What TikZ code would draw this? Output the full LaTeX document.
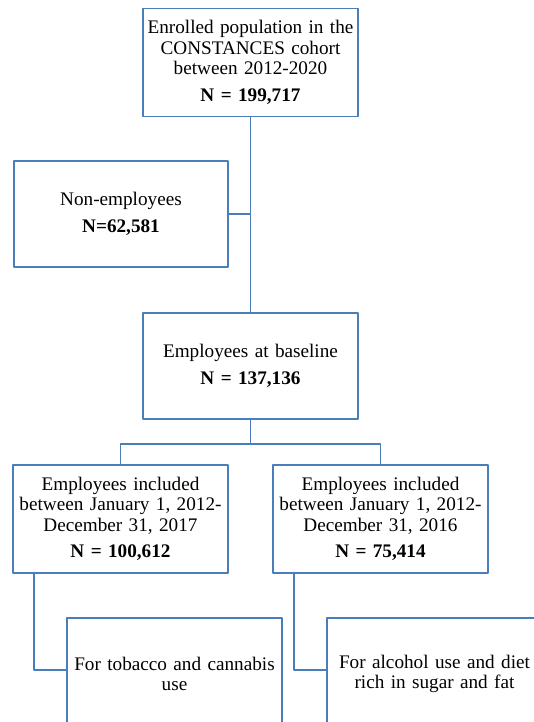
\documentclass[tikz,border=0pt]{standalone}
\usepackage{fontspec}
\setmainfont{Liberation Serif}
\definecolor{boxblue}{RGB}{74,126,187}
\begin{document}
\begin{tikzpicture}[x=1pt, y=-1pt, line join=round,
  box/.style={draw=boxblue, line width=1.8pt, text width=211pt, inner sep=2pt, align=center,
    minimum height=108pt, font=\fontsize{19.2}{20.5}\selectfont},
  link/.style={draw=boxblue, line width=1.8pt}]
\useasboundingbox (0,0) rectangle (534,722);
\clip (0,0) rectangle (534,722);
\node[box] (enrol) at (250.5,62.5) {Enrolled population in the\\CONSTANCES cohort\\between 2012-2020\\[6pt]\textbf{N = 199,717}};
\node[box, text width=210pt, minimum height=106pt] (nonemp) at (121,214) {Non-employees\\[6pt]\textbf{N=62,581}};
\node[box, minimum height=106pt] (emp) at (250.5,366) {Employees at baseline\\[6pt]\textbf{N = 137,136}};
\node[box] (inc17) at (120.5,519) {Employees included\\between January 1, 2012-\\December 31, 2017\\[6pt]\textbf{N = 100,612}};
\node[box] (inc16) at (380.5,519) {Employees included\\between January 1, 2012-\\December 31, 2016\\[6pt]\textbf{N = 75,414}};
\node[box, minimum height=112pt] (tob) at (174.5,674) {For tobacco and cannabis\\use};
\node[box, minimum height=112pt] (alc) at (434.5,674) {For alcohol use and diet\\rich in sugar and fat};
% connectors
\draw[link] (enrol.south) -- (emp.north);
\draw[link] (nonemp.east) -- (nonemp.east -| enrol.south);
\draw[link] (emp.south) -- ++(0,24) -| (inc17.north);
\draw[link] (emp.south) -- ++(0,24) -| (inc16.north);
\draw[link] ([xshift=22pt]inc17.south west) |- ([yshift=4pt]tob.west);
\draw[link] ([xshift=22pt]inc16.south west) |- ([yshift=4pt]alc.west);
\end{tikzpicture}
\end{document}
